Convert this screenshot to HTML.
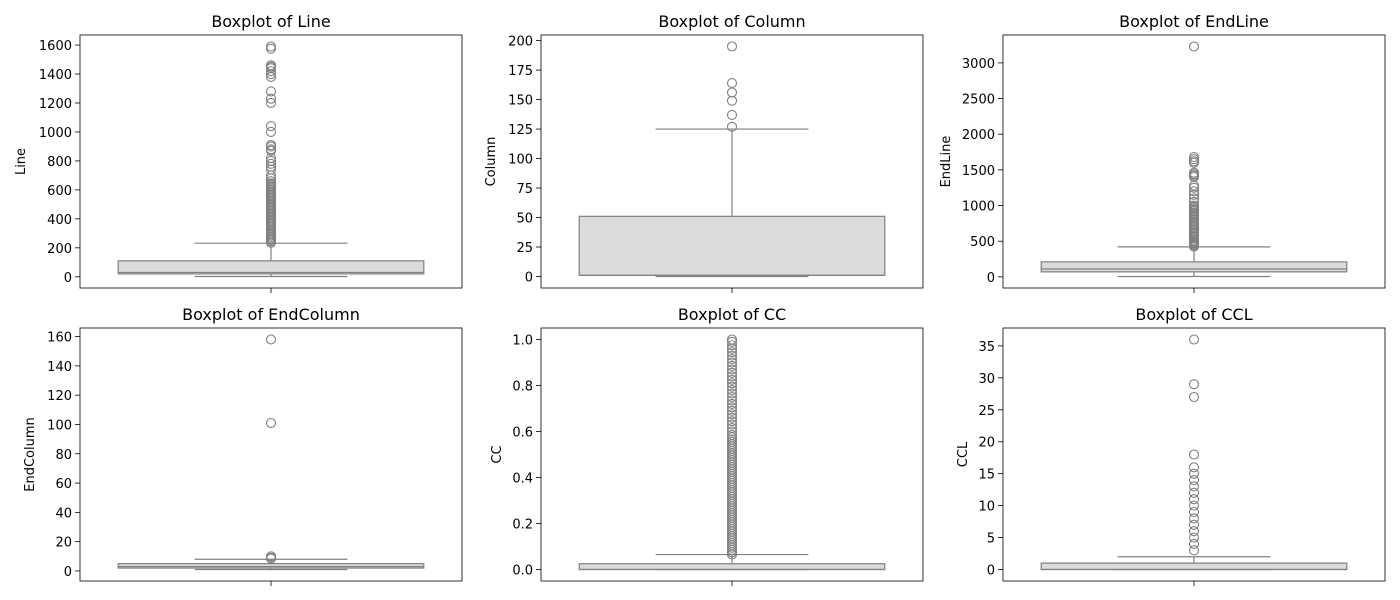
<!DOCTYPE html>
<html><head><meta charset="utf-8"><style>
body{margin:0;background:#fff;}
svg{display:block;font-family:"DejaVu Sans","Liberation Sans",sans-serif;}
</style></head><body>
<svg id="fig" width="1400" height="600" viewBox="0 0 1400 600"></svg>
<script>
const titles=["Line","Column","EndLine","EndColumn","CC","CCL"];
const lineStats=[2,20,30,110,232];
const lineOut=[235,245,255,265,275,285,295,305,315,325,335,345,355,365,375,385,395,405,415,425,435,445,455,465,475,485,495,505,515,525,535,545,555,565,575,585,595,605,615,625,635,645,660,680,700,740,760,780,800,820,870,880,900,910,1000,1040,1200,1230,1280,1380,1400,1420,1440,1450,1460,1575,1590];
const lineTicks=[0,200,400,600,800,1000,1200,1400,1600];
const colStats=[0,1,1,51,125];
const colOut=[127,137,149,156,164,195];
const colTicks=[0,25,50,75,100,125,150,175,200];
const elStats=[5,70,110,210,420];
const elOut=[425,440,455,470,485,500,520,540,560,580,600,620,640,660,680,700,720,740,760,780,800,820,840,860,880,900,920,940,960,980,1000,1050,1100,1150,1200,1250,1280,1400,1420,1440,1460,1600,1620,1650,1680,3230];
const elTicks=[0,500,1000,1500,2000,2500,3000];
const ecStats=[1,2,3,5,8];
const ecOut=[8.5,9,10,101,158];
const ecTicks=[0,20,40,60,80,100,120,140,160];
const ccStats=[0,0,0,0.025,0.065];
const ccOut=[0.065,0.075,0.085,0.095,0.105,0.115,0.125,0.135,0.145,0.155,0.165,0.175,0.185,0.195,0.205,0.215,0.225,0.235,0.245,0.255,0.265,0.275,0.285,0.295,0.305,0.315,0.325,0.335,0.345,0.355,0.365,0.375,0.385,0.395,0.405,0.415,0.425,0.435,0.445,0.455,0.465,0.475,0.485,0.495,0.505,0.515,0.525,0.535,0.545,0.555,0.565,0.575,0.585,0.6,0.615,0.63,0.645,0.66,0.675,0.69,0.705,0.72,0.735,0.75,0.765,0.78,0.795,0.81,0.825,0.84,0.855,0.87,0.885,0.9,0.915,0.93,0.945,0.96,0.975,0.99,1.0];
const ccTicks=[0,0.2,0.4,0.6,0.8,1.0];
const cclStats=[0,0,0,1,2];
const cclOut=[3,4,5,6,7,8,9,10,11,12,13,14,15,16,18,27,29,36];
const cclTicks=[0,5,10,15,20,25,30,35];
const tickFmt=[v=>String(v),v=>String(v),v=>String(v),v=>String(v),v=>v.toFixed(1),v=>String(v)];

const allStats=[lineStats,colStats,elStats,ecStats,ccStats,cclStats];
const allOut=[lineOut,colOut,elOut,ecOut,ccOut,cclOut];
const allTicks=[lineTicks,colTicks,elTicks,ecTicks,ccTicks,cclTicks];
const axX=[80,541,1003], axY=[35,328], axW=382, axH=253;
const labelX=[[25,495,950],[34,501,967]];
const NS="http://www.w3.org/2000/svg";
const svg=document.getElementById('fig');
function mk(tag,attrs,parent){const e=document.createElementNS(NS,tag);for(const k in attrs)e.setAttribute(k,attrs[k]);(parent||svg).appendChild(e);return e;}

for(let i=0;i<6;i++){
  const r=Math.floor(i/3),c=i%3;
  const x0=axX[c],y0=axY[r];
  const st=allStats[i],out=allOut[i];
  const mn=Math.min(st[0],...out),mx=Math.max(st[4],...out);
  const pad=(mx-mn)*0.05,lo=mn-pad,hi=mx+pad;
  const Y=v=>y0+axH-(v-lo)/(hi-lo)*axH;
  const cx=x0+axW/2,bw=axW*0.8;
  const g=mk('g',{});
  
  
  const t=mk('text',{x:cx,y:y0-8,'text-anchor':'middle','font-size':16,fill:'#000'},g);
  t.textContent='Boxplot of '+titles[i];
  
  
  const yl=mk('text',{x:labelX[r][c],y:y0+axH/2,'text-anchor':'middle','font-size':13,transform:`rotate(-90 ${labelX[r][c]} ${y0+axH/2})`},g);
  yl.textContent=titles[i];
  
  
  allTicks[i].forEach(v=>{
    const y=Y(v);
    mk('line',{x1:x0-5,x2:x0,y1:y,y2:y,stroke:'#000','stroke-width':0.8},g);
    const tl=mk('text',{x:x0-8,y:y+5,'text-anchor':'end','font-size':13},g);
    tl.textContent=tickFmt[i](v);
    
    
  });
  mk('line',{x1:cx,x2:cx,y1:y0+axH,y2:y0+axH+5,stroke:'#000','stroke-width':0.8},g);
  const col='#808080';
  mk('line',{x1:cx,x2:cx,y1:Y(st[3]),y2:Y(st[4]),stroke:col,'stroke-width':1.2},g);
  mk('line',{x1:cx,x2:cx,y1:Y(st[1]),y2:Y(st[0]),stroke:col,'stroke-width':1.2},g);
  mk('line',{x1:cx-bw/4,x2:cx+bw/4,y1:Y(st[4]),y2:Y(st[4]),stroke:col,'stroke-width':1.2},g);
  mk('line',{x1:cx-bw/4,x2:cx+bw/4,y1:Y(st[0]),y2:Y(st[0]),stroke:col,'stroke-width':1.2},g);
  const box=mk('rect',{x:cx-bw/2,y:Y(st[3]),width:bw,height:Math.max(1,Y(st[1])-Y(st[3])),fill:'#dbdbdb',stroke:col,'stroke-width':1.2},g);
  
  
  mk('line',{x1:cx-bw/2,x2:cx+bw/2,y1:Y(st[2]),y2:Y(st[2]),stroke:col,'stroke-width':1.2},g);
  out.forEach(v=>{
    const o=mk('circle',{cx:cx,cy:Y(v),r:4.5,fill:'none',stroke:col,'stroke-width':1.1},g);
    
    
  });
  mk('rect',{x:x0,y:y0,width:axW,height:axH,fill:'none',stroke:'#000','stroke-width':0.8},g);
}
</script>
</body></html>
